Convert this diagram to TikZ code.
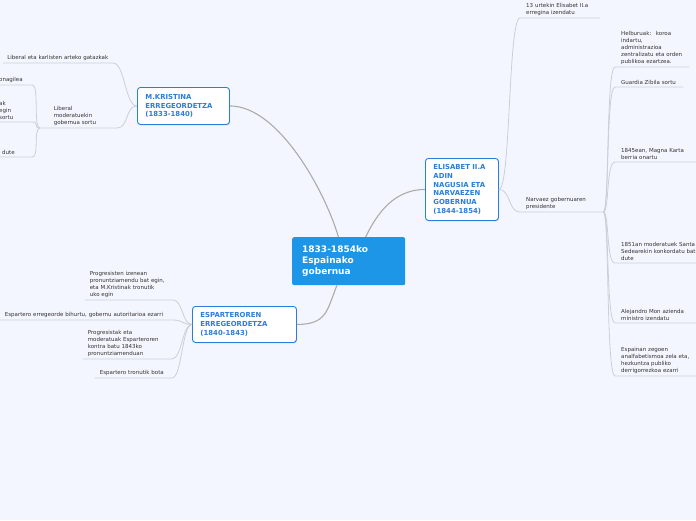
\documentclass[tikz,border=0pt]{standalone}
\usepackage{fontspec}
\setmainfont{DejaVu Sans}
\usetikzlibrary{shadows}
\definecolor{bgblue}{HTML}{F3F6FE}
\definecolor{rootblue}{HTML}{1D96E8}
\definecolor{topicblue}{HTML}{2A7DDB}
\definecolor{twiggray}{HTML}{CBCFD7}
\definecolor{stemgray}{HTML}{ABABAB}
\definecolor{leaftext}{HTML}{333333}
\tikzset{
  central/.style={
    fill=rootblue,
    text=white,
    rounded corners=2pt,
    font=\fontsize{9}{11}\selectfont\bfseries,
    align=left,
    inner xsep=10pt,
    text width=93pt,
    minimum height=48pt
  },
  topic/.style={
    draw=topicblue,
    line width=0.9pt,
    fill=white,
    text=topicblue,
    rounded corners=3pt,
    drop shadow={shadow xshift=0.6pt, shadow yshift=-1pt, opacity=0.25},
    font=\fontsize{6.9}{8.8}\selectfont\bfseries,
    align=left,
    inner xsep=8pt
  },
  leaf/.style={
    text=leaftext,
    font=\fontsize{5.5}{6.8}\selectfont,
    align=left,
    inner xsep=5pt,
    inner ysep=2.6pt
  },
  rleaf/.style={
    leaf,
    anchor=south west,
    inner xsep=6pt
  },
  stem/.style={draw=stemgray, line width=1.1pt},
  twig/.style={draw=twiggray, line width=0.8pt},
}
\begin{document}
\begin{tikzpicture}[x=1pt,y=-1pt]
    \useasboundingbox (0,0) rectangle (696,520);
    \fill[bgblue] (0,0) rectangle (696,520);
    % main topics
    \node[central, anchor=north west] (root) at (292,237) {1833-1854ko\\Espainako\\gobernua};
    \node[topic, anchor=north west, text width=76pt, minimum height=37pt] (mk) at (137,87) {M.KRISTINA\\ERREGEORDETZA\\(1833-1840)};
    \node[topic, anchor=north west, text width=88pt, minimum height=36pt] (es) at (192,306) {ESPARTEROREN\\ERREGEORDETZA\\(1840-1843)};
    \node[topic, anchor=north west, text width=57pt, minimum height=62pt] (eb) at (425,158) {ELISABET II.A\\ADIN\\NAGUSIA ETA\\NARVAEZEN\\GOBERNUA\\(1844-1854)};
    \draw[stem] (root.113) .. controls +(-12,-42) and +(50,0) .. (mk.east);
    \draw[stem] (root.55) .. controls +(12,-25) and +(-30,0) .. (eb.west);
    \draw[stem] (root.244) .. controls +(-10,25) and +(30,0) .. (es.east);
    % M.Kristina
    \node[leaf, anchor=south east, text width=101.5pt, inner xsep=4pt] (l1) at (113,63) {Liberal eta karlisten arteko gatazkak};
    \node[leaf, anchor=south east, text width=58pt] (l2) at (117,128) {Liberal\\moderatuekin\\gobernua sortu};
    \coordinate (l2j) at (40,128);
    \draw[twig] (mk.west) .. controls +(-12,0) and +(12,0) .. (l1.south east) -- (l1.south west);
    \draw[twig] (mk.west) .. controls +(-12,0) and +(12,0) .. (l2.south east) -- (l2j);
    \node[leaf, anchor=south west, text width=28pt] (g1) at (-6,85) {onagilea};
    \node[leaf, anchor=south west, text width=28pt] (g2) at (-6,122) {ak\\egin\\sortu};
    \node[leaf, anchor=south west, text width=28pt] (g3) at (-6,157) {\hspace{3pt}dute};
    \foreach \g in {g1,g2,g3}{
        \draw[twig] (l2j) .. controls +(-7,0) and +(7,0) .. (\g.south east) -- (\g.south west);
    }
    % Espartero
    \node[leaf, anchor=south east, text width=78pt] (e1) at (173,300) {Progresisten izenean\\pronuntziamendu bat egin,\\eta M.Kristinak tronutik\\uko egin};
    \node[leaf, anchor=south east, text width=163pt] (e2) at (173,320) {Espartero erregeorde bihurtu, gobernu autoritarioa ezarri};
    \node[leaf, anchor=south east, text width=79pt] (e3) at (172,359) {Progresistak eta\\moderatuak Esparteroren\\kontra batu 1843ko\\pronuntziamenduan};
    \node[leaf, anchor=south east, text width=67pt] (e4) at (172,378) {Espartero tronutik bota};
    \foreach \e in {e1,e2,e3,e4}{
        \draw[twig] (es.west) .. controls +(-10,0) and +(10,0) .. (\e.south east) -- (\e.south west);
    }
    % Elisabet
    \node[rleaf, text width=68pt] (r1) at (520,18) {13 urtekin Elisabet II.a\\erregina izendatu};
    \node[rleaf, text width=71pt] (r2) at (520,212) {Narvaez gobernuaren\\presidente};
    \foreach \r in {r1,r2}{
        \draw[twig] (eb.east) .. controls +(12,0) and +(-12,0) .. (\r.south west) -- (\r.south east);
    }
    \node[rleaf, text width=62pt] (n1) at (615,67) {Helburuak:~ koroa\\indartu,\\administrazioa\\zentralizatu eta orden\\publikoa ezartzea.};
    \node[rleaf, text width=56pt] (n2) at (615,87) {Guardia Zibila sortu};
    \node[rleaf, text width=80pt] (n3) at (615,162) {1845ean, Magna Karta\\berria onartu};
    \node[rleaf, text width=80pt] (n4) at (615,263) {1851an moderatuek Santa\\Sedearekin konkordatu bat\\dute};
    \node[rleaf, text width=80pt] (n5) at (615,323) {Alejandro Mon azienda\\ministro izendatu};
    \node[rleaf, text width=80pt] (n6) at (615,376) {Espainan zegoen\\analfabetismoa zela eta,\\hezkuntza publiko\\derrigorrezkoa ezarri};
    \foreach \n in {n1,n2,n3,n4,n5,n6}{
        \draw[twig] (r2.south east) .. controls +(6,0) and +(-9,0) .. (\n.south west) -- (\n.south east);
    }
\end{tikzpicture}
\end{document}
